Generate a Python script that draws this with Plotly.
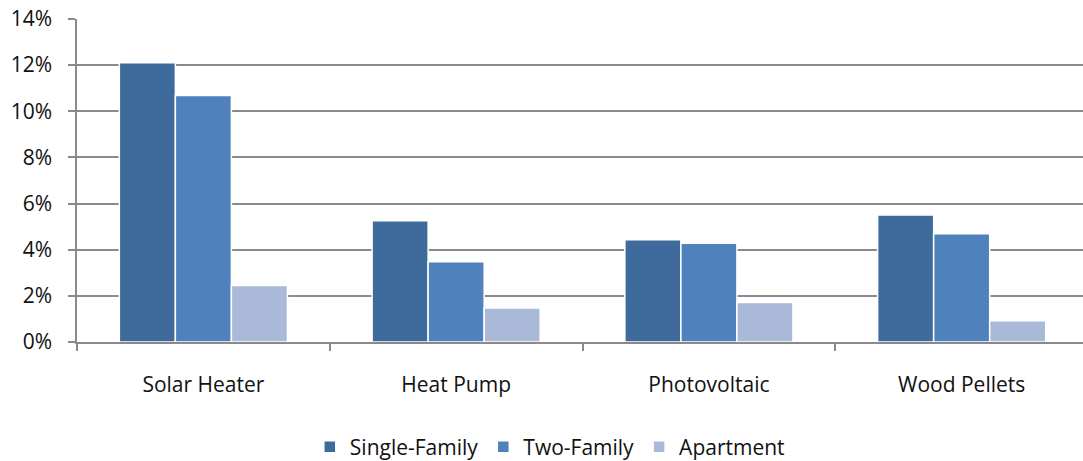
import plotly.graph_objects as go

categories = ["Solar Heater", "Heat Pump", "Photovoltaic", "Wood Pellets"]
single_family = [12.1, 5.26, 4.43, 5.5]
two_family = [10.68, 3.48, 4.28, 4.69]
apartment = [2.45, 1.47, 1.71, 0.92]
series_names = ["Single-Family", "Two-Family", "Apartment"]
colors = ["#3F6A9C", "#4F81BD", "#AAB9D7"]
y_ticks = [0, 2, 4, 6, 8, 10, 12, 14]
y_tick_labels = [f"{v}%" for v in y_ticks]

FONT = "Open Sans"

fig = go.Figure()
for name, vals, col in zip(series_names, [single_family, two_family, apartment], colors):
    fig.add_trace(go.Bar(
        x=categories, y=vals, name=name,
        marker=dict(color=col, line=dict(color="white", width=1.5)),
    ))

fig.update_layout(
    width=1083, height=461,
    margin=dict(l=77, r=0, t=19, b=119, autoexpand=False),
    plot_bgcolor="white", paper_bgcolor="white",
    barmode="group", bargap=0.335, bargroupgap=0,
    font=dict(family=FONT, size=21, color="#111111"),
    showlegend=True,
    legend=dict(orientation="h", x=0.47, xanchor="center", y=-0.325, yanchor="middle",
                font=dict(family=FONT, size=21, color="#111111"),
                itemwidth=30, traceorder="normal"),
    xaxis=dict(
        type="category", range=[-0.5, 3.48], automargin=False,
        showline=True, linecolor="#8a8a8a", linewidth=1.5,
        ticks="outside", tickson="boundaries", ticklen=7, tickcolor="#8a8a8a", tickwidth=1.5,
        ticklabelstandoff=23,
        showgrid=False,
    ),
    yaxis=dict(
        range=[0, 14], tickvals=y_ticks, ticktext=y_tick_labels, automargin=False,
        showline=True, linecolor="#8a8a8a", linewidth=1.5,
        ticks="outside", ticklen=7, tickcolor="#8a8a8a", tickwidth=1.5,
        ticklabelstandoff=12,
        showgrid=True, gridcolor="#8a8a8a", gridwidth=1.5,
        zeroline=False,
    ),
)

fig.write_html("out.html", config={"displayModeBar": False},
               post_script="document.body.style.margin='0';document.body.style.overflow='hidden';")
